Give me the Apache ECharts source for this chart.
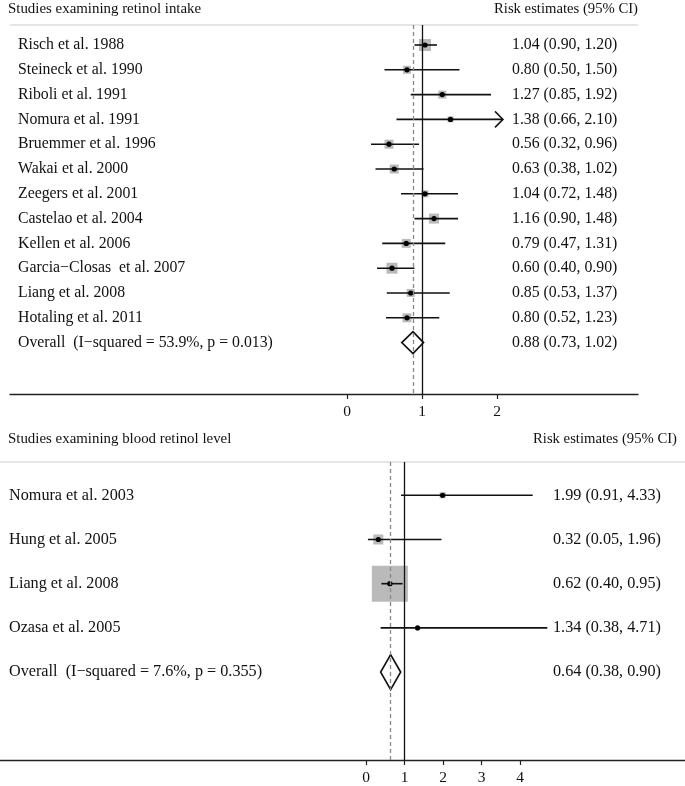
<!DOCTYPE html>
<html><head><meta charset="utf-8">
<script src="https://cdn.jsdelivr.net/npm/echarts@6/dist/echarts.min.js"></script>
<style>html,body{margin:0;padding:0;background:#fff}#c{width:685px;height:786px}</style>
</head><body><div id="c"></div>
<script>
// ---- Data: panel 1 (retinol intake) ----
const intakeStudies = ["Risch et al. 1988","Steineck et al. 1990","Riboli et al. 1991","Nomura et al. 1991","Bruemmer et al. 1996","Wakai et al. 2000","Zeegers et al. 2001","Castelao et al. 2004","Kellen et al. 2006","Garcia\u2212Closas  et al. 2007","Liang et al. 2008","Hotaling et al. 2011","Overall  (I\u2212squared = 53.9%, p = 0.013)"];
const intakeRR = [1.04,0.80,1.27,1.38,0.56,0.63,1.04,1.16,0.79,0.60,0.85,0.80,0.88];
const intakeLo = [0.90,0.50,0.85,0.66,0.32,0.38,0.72,0.90,0.47,0.40,0.53,0.52,0.73];
const intakeHi = [1.20,1.50,1.92,2.10,0.96,1.02,1.48,1.48,1.31,0.90,1.37,1.23,1.02];
const intakeWeight = [14.4,6.4,6.4,3.6,8.1,8.1,4.9,10.0,8.1,12.1,6.4,8.1,null];
const intakeTicks = [0,1,2];
// ---- Data: panel 2 (blood retinol level) ----
const bloodStudies = ["Nomura et al. 2003","Hung et al. 2005","Liang et al. 2008","Ozasa et al. 2005","Overall  (I\u2212squared = 7.6%, p = 0.355)"];
const bloodRR = [1.99,0.32,0.62,1.34,0.64];
const bloodLo = [0.91,0.05,0.40,0.38,0.38];
const bloodHi = [4.33,1.96,0.95,4.71,0.90];
const bloodWeight = [2.5,6.9,89.9,0.6,null];
const bloodTicks = [0,1,2,3,4];

const FONT = "'Liberation Serif','DejaVu Serif',serif";
const TXT = '#111';

function fmt(v){return v.toFixed(2);}

function makeRender(labels, labelX, estX, fontSize, boxScale, diamondH, clipMax){
  return function(params, api){
    const i = api.value(0);
    const e = api.value(1), l = api.value(2), h = api.value(3), w = api.value(4);
    const y = api.coord([0, i])[1];
    const X = v => api.coord([v, i])[0];
    const children = [];
    const isOverall = labels[params.dataIndex].indexOf('Overall') === 0;
    if (isOverall) {
      const xl = X(l), xh = X(h), xe = X(e), hh = diamondH/2;
      children.push({type:'polygon', shape:{points:[[xl,y],[xe,y-hh],[xh,y],[xe,y+hh]]},
        style:{fill:'none', stroke:'#111', lineWidth:1.7}, z2:5});
    } else {
      const side = Math.sqrt(w) * boxScale;
      const xe = X(e);
      children.push({type:'rect', shape:{x:xe-side/2, y:y-side/2, width:side, height:side},
        style:{fill:'#bababa'}, z2:1});
      let hv = h, clipped = false;
      if (clipMax != null && h > clipMax) { hv = clipMax; clipped = true; }
      const xl = X(l), xh = X(hv);
      children.push({type:'line', shape:{x1:xl, y1:y, x2:xh, y2:y}, style:{stroke:'#111', lineWidth:1.6}, z2:3});
      if (clipped) {
        children.push({type:'polyline', shape:{points:[[xh-8,y-8],[xh,y],[xh-8,y+8]]}, style:{stroke:'#111', lineWidth:1.5, fill:'none'}, z2:3});
      }
      children.push({type:'circle', shape:{cx:xe, cy:y, r:2.6}, style:{fill:'#000'}, z2:4});
    }
    children.push({type:'text', x:labelX, y:y, style:{text:labels[params.dataIndex], font:fontSize+'px '+FONT, fill:TXT, align:'left', verticalAlign:'middle'}, z2:6});
    children.push({type:'text', x:estX, y:y, style:{text:fmt(e)+' ('+fmt(l)+', '+fmt(h)+')', font:fontSize+'px '+FONT, fill:TXT, align:'left', verticalAlign:'middle'}, z2:6});
    return {type:'group', children};
  };
}

function rows(est, lo, hi, wt){
  return est.map((e,i)=>[i, e, lo[i], hi[i], wt[i]==null?0:wt[i]]);
}

const chart = echarts.init(document.getElementById('c'), null, {renderer:'canvas'});

function xAxisCfg(gi, min, max, ticks){
  return {type:'value', gridIndex:gi, position:'bottom', min:min, max:max, splitLine:{show:false},
    axisLine:{show:true, onZero:false, lineStyle:{color:'#222', width:1.4}},
    axisTick:{show:true, customValues:ticks, length:5, inside:false, lineStyle:{color:'#222', width:1.2}},
    axisLabel:{show:true, customValues:ticks, margin:10, fontFamily:FONT, fontSize:15.5, color:TXT}};
}
function yAxisCfg(gi, min, max){
  return {type:'value', gridIndex:gi, min:min, max:max, inverse:true, show:false, splitLine:{show:false}};
}
function refLines(overall){
  return {symbol:'none', silent:true, label:{show:false}, animation:false,
    data:[
      {xAxis:1, lineStyle:{color:'#111', type:'solid', width:1.3}},
      {xAxis:overall, lineStyle:{color:'#888', type:[4,3], width:1.3}}
    ]};
}

// panel geometry: top unit 75 px (0 at x=347), bottom unit 38.5 px (0 at x=366)
const option = {
  animation:false,
  backgroundColor:'#fff',
  grid:[
    {left:10, right:47, top:25, height:369},
    {left:0, right:0, top:462, height:300}
  ],
  xAxis:[
    xAxisCfg(0, -337/75, 291/75, intakeTicks),
    xAxisCfg(1, -366/38.5, 319/38.5, bloodTicks)
  ],
  yAxis:[
    yAxisCfg(0, -20/24.8, 349/24.8),
    yAxisCfg(1, -33.5/44.5, 266.5/44.5)
  ],
  graphic:[
    {type:'text', left:8, top:2, style:{text:'Studies examining retinol intake', font:'14.9px '+FONT, fill:TXT}},
    {type:'text', right:685-638, top:2, style:{text:'Risk estimates (95% CI)', font:'14.7px '+FONT, fill:TXT, align:'right'}},
    {type:'line', shape:{x1:10, y1:25, x2:638, y2:25}, style:{stroke:'#cccccc', lineWidth:1.2}},
    {type:'text', left:8, top:432, style:{text:'Studies examining blood retinol level', font:'14.9px '+FONT, fill:TXT}},
    {type:'text', right:685-677, top:432, style:{text:'Risk estimates (95% CI)', font:'14.7px '+FONT, fill:TXT, align:'right'}},
    {type:'line', shape:{x1:0, y1:462, x2:685, y2:462}, style:{stroke:'#cccccc', lineWidth:1.2}}
  ],
  series:[
    {type:'custom', xAxisIndex:0, yAxisIndex:0, clip:false,
      renderItem: makeRender(intakeStudies, 18, 512, 15.8, 3.16, 22, 2.08),
      data: rows(intakeRR, intakeLo, intakeHi, intakeWeight),
      markLine: refLines(intakeRR[intakeRR.length-1]), z:3},
    {type:'custom', xAxisIndex:1, yAxisIndex:1, clip:false,
      renderItem: makeRender(bloodStudies, 9, 553, 16.2, 3.8, 35, null),
      data: rows(bloodRR, bloodLo, bloodHi, bloodWeight),
      markLine: refLines(bloodRR[bloodRR.length-1]), z:3}
  ]
};
chart.setOption(option);
</script>
</body></html>
